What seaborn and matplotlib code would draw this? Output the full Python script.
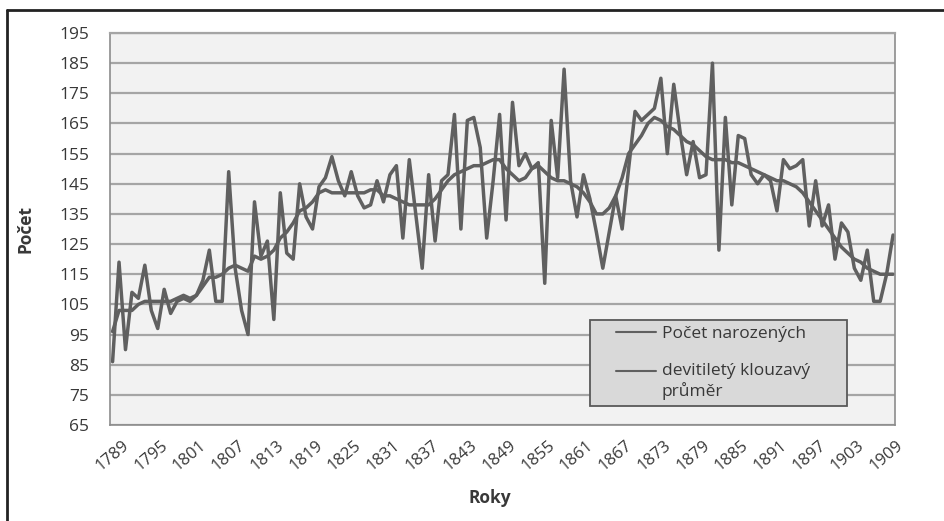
import matplotlib
matplotlib.use('Agg')
import matplotlib.pyplot as plt
from matplotlib.lines import Line2D
from matplotlib.legend_handler import HandlerLine2D
import seaborn as sns
import pandas as pd

# roky 1789-1910
years = list(range(1789, 1911))

births = [86, 119, 90, 109, 107, 118, 103, 97, 110, 102,        # 1789-1798
          106, 107, 106, 108, 113, 123, 106, 106, 149, 117,     # 1799-1808
          103, 95, 139, 121, 126, 100, 142, 122, 120, 145,      # 1809-1818
          134, 130, 144, 147, 154, 146, 141, 149, 141, 137,     # 1819-1828
          138, 146, 139, 148, 151, 127, 153, 135, 117, 148,     # 1829-1838
          126, 146, 148, 168, 130, 166, 167, 157, 127, 146,     # 1839-1848
          168, 133, 172, 151, 155, 150, 152, 112, 166, 147,     # 1849-1858
          183, 146, 134, 148, 140, 129, 117, 129, 141, 130,     # 1859-1868
          150, 169, 166, 168, 170, 180, 155, 178, 162, 148,     # 1869-1878
          159, 147, 148, 185, 123, 167, 138, 161, 160, 148,     # 1879-1888
          145, 148, 146, 136, 153, 150, 151, 153, 131, 146,     # 1889-1898
          131, 138, 120, 132, 129, 117, 113, 123, 106, 106,     # 1899-1908
          115, 128]                                             # 1909-1910

moving_avg = [96, 103, 103, 103, 105, 106, 106, 106, 106, 106,
              107, 108, 107, 108, 111, 114, 114, 115, 117, 118,
              117, 116, 121, 120, 121, 123, 127, 129, 132, 136,
              137, 139, 142, 143, 142, 142, 142, 142, 142, 142,
              143, 143, 141, 141, 140, 139, 138, 138, 138, 138,
              140, 143, 146, 148, 149, 150, 151, 151, 152, 153,
              153, 150, 148, 146, 147, 150, 151, 149, 147, 146,
              146, 145, 144, 142, 139, 135, 135, 137, 141, 147,
              155, 158, 161, 165, 167, 166, 164, 163, 161, 159,
              158, 156, 154, 153, 153, 153, 152, 152, 151, 150,
              149, 148, 147, 146, 146, 145, 144, 142, 139, 136,
              133, 130, 127, 124, 122, 120, 119, 117, 116, 115,
              115, 115]

tick_years = [1789, 1795, 1801, 1807, 1813, 1819, 1825, 1831, 1837, 1843, 1849,
              1855, 1861, 1867, 1873, 1879, 1885, 1891, 1897, 1903, 1909]
y_ticks = [65, 75, 85, 95, 105, 115, 125, 135, 145, 155, 165, 175, 185, 195]

label_births = 'Počet narozených'
label_avg = 'devitiletý klouzavý\nprůměr'

line_col = '#606060'
text_col = '#383838'


class HandlerShiftedLine(HandlerLine2D):
    """čára v legendě posunutá k prvnímu řádku víceřádkového popisku"""

    def __init__(self, yshift=0.0, **kw):
        super().__init__(**kw)
        self.yshift = yshift

    def create_artists(self, legend, orig_handle, xdescent, ydescent,
                       width, height, fontsize, trans):
        artists = super().create_artists(legend, orig_handle, xdescent, ydescent,
                                         width, height, fontsize, trans)
        for a in artists:
            a.set_ydata([y + self.yshift * fontsize for y in a.get_ydata()])
        return artists


sns.set_theme(style='white')
plt.rcParams['font.family'] = ['Open Sans', 'DejaVu Sans']

W, H = 945, 521
fig = plt.figure(figsize=(W / 100, H / 100), dpi=100)
fig.patch.set_facecolor('white')
ax = fig.add_axes([110 / W, 1 - 425 / H, 785 / W, 392 / H])

df = pd.DataFrame({'Rok': years, label_births: births, label_avg: moving_avg})
long_df = df.melt('Rok', var_name='serie', value_name='pocet')
sns.lineplot(data=long_df, x='Rok', y='pocet', hue='serie',
             palette=[line_col, line_col], linewidth=2.5, ax=ax, legend=False)

ax.set_facecolor('#f2f2f2')
ax.set_xlim(1788.6, 1910.3)
ax.set_ylim(65, 195)
ax.set_yticks(y_ticks)
ax.set_yticklabels([str(v) for v in y_ticks])
ax.set_xticks(tick_years)
ax.set_xticklabels([str(y) for y in tick_years], rotation=40, ha='center')
ax.yaxis.grid(True, color='#a5a5a5', linewidth=1.6)
ax.xaxis.grid(False)
ax.set_axisbelow(True)

ax.tick_params(axis='both', direction='out', length=7, width=1, color='#8c8c8c',
               labelcolor=text_col)
ax.tick_params(axis='x', pad=2, labelsize=12)
ax.tick_params(axis='y', pad=8, labelsize=12.5)

for side in ['left', 'bottom', 'right']:
    ax.spines[side].set_color('#8c8c8c')
    ax.spines[side].set_linewidth(1.2)
ax.spines['top'].set_color('#a5a5a5')
ax.spines['top'].set_linewidth(1.6)

ax.set_ylabel('Počet', fontsize=12.5, fontweight='bold', color=text_col)
ax.yaxis.set_label_coords((35 - 110) / 785, 0.5)
ax.set_xlabel('Roky', fontsize=12.5, fontweight='bold', color=text_col)
ax.xaxis.set_label_coords((490 - 110) / 785, (425 - 489) / 392)

handles = [Line2D([], [], color=line_col, lw=1.5), Line2D([], [], color=line_col, lw=1.5)]
leg = ax.legend(handles, [label_births, label_avg], loc='upper left',
                bbox_to_anchor=(0.611, 0.051, 0.328, 0.217), mode='expand',
                borderaxespad=0, fontsize=12.5, frameon=True, fancybox=False,
                facecolor='#d9d9d9', edgecolor='#595959', framealpha=1,
                handlelength=3.45, handletextpad=0.35, labelspacing=1.2,
                borderpad=0.35,
                handler_map={handles[0]: HandlerShiftedLine(0.0, xpad=1.15),
                             handles[1]: HandlerShiftedLine(0.6, xpad=1.15)})
leg.get_frame().set_linewidth(1.3)
for t in leg.get_texts():
    t.set_color(text_col)

# vnější rámeček grafu
fig.add_artist(Line2D([7 / W, 7 / W], [0, 1 - 10 / H], transform=fig.transFigure,
                      color='#222222', lw=2))
fig.add_artist(Line2D([7 / W, 1], [1 - 10 / H, 1 - 10 / H], transform=fig.transFigure,
                      color='#222222', lw=2))

fig.savefig('out.png', dpi=100)
